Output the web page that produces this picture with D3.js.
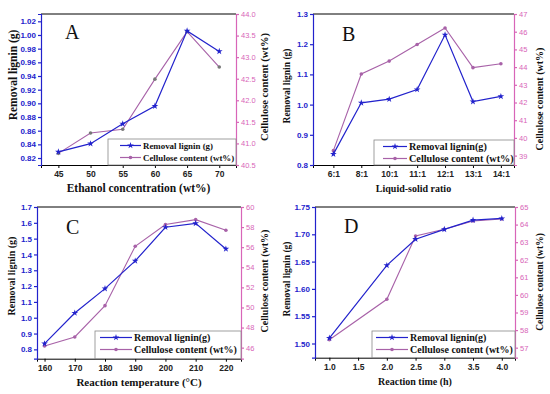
<!DOCTYPE html>
<html>
<head>
<meta charset="utf-8">
<script src="https://cdn.jsdelivr.net/npm/d3@7"></script>
<style>
  body { margin: 0; background: #fff; }
  svg { display: block; font-family: "Liberation Serif", "DejaVu Serif", serif; }
</style>
</head>
<body>
<script>
// panel A - ethanol concentration
var ethanolConc = [45, 50, 55, 60, 65, 70];
var ligninA = [0.829, 0.841, 0.870, 0.896, 1.006, 0.976];
var celluloseA = [40.77, 41.24, 41.33, 42.49, 43.59, 42.77];

// panel B - liquid-solid ratio
var ratioLabels = ["6:1", "8:1", "10:1", "11:1", "12:1", "13:1", "14:1"];
var ligninB = [0.836, 1.006, 1.018, 1.050, 1.231, 1.010, 1.027];
var celluloseB = [39.28, 43.61, 44.34, 45.28, 46.21, 43.97, 44.19];

// panel C - reaction temperature
var temperature = [160, 170, 180, 190, 200, 210, 220];
var ligninC = [0.836, 1.030, 1.184, 1.359, 1.572, 1.597, 1.435];
var celluloseC = [46.17, 47.06, 50.18, 56.09, 58.25, 58.74, 57.68];

// panel D - reaction time
var reactionTime = [1.0, 2.0, 2.5, 3.0, 3.5, 4.0];
var ligninD = [1.510, 1.643, 1.691, 1.709, 1.726, 1.729];
var celluloseD = [57.45, 59.75, 63.35, 63.73, 64.20, 64.32];

var ligninTicksA = [0.82, 0.84, 0.86, 0.88, 0.90, 0.92, 0.94, 0.96, 0.98, 1.00, 1.02];
var cellTicksA = [40.5, 41.0, 41.5, 42.0, 42.5, 43.0, 43.5, 44.0];
var ligninTicksB = [0.8, 0.9, 1.0, 1.1, 1.2, 1.3];
var cellTicksB = [39, 40, 41, 42, 43, 44, 45, 46, 47];
var ligninTicksC = [0.8, 0.9, 1.0, 1.1, 1.2, 1.3, 1.4, 1.5, 1.6, 1.7];
var cellTicksC = [46, 48, 50, 52, 54, 56, 58, 60];
var ligninTicksD = [1.50, 1.55, 1.60, 1.65, 1.70, 1.75];
var cellTicksD = [57, 58, 59, 60, 61, 62, 63, 64, 65];
var timeTicks = [1.0, 1.5, 2.0, 2.5, 3.0, 3.5, 4.0];

var blue = "#2222cc";
var mauve = "#a862a8";
var pink = "#d865b8";

var svg = d3.select("body").append("svg").attr("width", 550).attr("height", 394);

var panels = [
  { letter: "A", left: 41, right: 236, top: 14, bottom: 165,
    x: ethanolConc, xDomain: [42.3, 72.6], xTicks: ethanolConc, xFmt: d3.format("d"),
    lig: ligninA, ligDomain: [0.8098, 1.0307], ligTicks: ligninTicksA, ligFmt: d3.format(".2f"),
    cel: celluloseA, celDomain: [40.5, 44.0], celTicks: cellTicksA, celFmt: d3.format(".1f"),
    xTitle: "Ethanol concentration (wt%)", xTitleSize: 11.5,
    yTitle: "Removal lignin (g)", yTitleX: 17, yTitleY: 75, yTitleSize: 11.5,
    rTitleX: 268, rTitleY: 87, rTitleSize: 10.5,
    legend: ["Removal lignin (g)", "Cellulose content (wt%)"], legX: 108, legY: 139,
    legLine: [12, 33], legFont: 8.9,
    letterX: 65, letterY: 39, celMarker: "#777" },
  { letter: "B", left: 313, right: 514, top: 14, bottom: 165,
    x: d3.range(ratioLabels.length), xDomain: [-0.73, 6.47], xTicks: d3.range(ratioLabels.length),
    xFmt: function(i) { return ratioLabels[i]; },
    lig: ligninB, ligDomain: [0.8, 1.3], ligTicks: ligninTicksB, ligFmt: d3.format(".1f"),
    cel: celluloseB, celDomain: [38.47, 47], celTicks: cellTicksB, celFmt: d3.format("d"),
    xTitle: "Liquid-solid ratio", xTitleSize: 10,
    yTitle: "Removal lignin (g)", yTitleX: 290, yTitleY: 86, yTitleSize: 9.5,
    rTitleX: 543, rTitleY: 99, rTitleSize: 10,
    legend: ["Removal lignin(g)", "Cellulose content (wt%)"], legX: 374, legY: 140,
    legLine: [9, 33], legFont: 10.2,
    letterX: 342, letterY: 41, celMarker: mauve },
  { letter: "C", left: 37, right: 241, top: 207, bottom: 358.7,
    x: temperature, xDomain: [157.5, 225], xTicks: temperature, xFmt: d3.format("d"),
    lig: ligninC, ligDomain: [0.741, 1.7], ligTicks: ligninTicksC, ligFmt: d3.format(".1f"),
    cel: celluloseC, celDomain: [44.9, 60], celTicks: cellTicksC, celFmt: d3.format("d"),
    xTitle: "Reaction temperature (\u00B0C)", xTitleSize: 11,
    yTitle: "Removal lignin (g)", yTitleX: 15, yTitleY: 276, yTitleSize: 10,
    rTitleX: 268, rTitleY: 281, rTitleSize: 10,
    legend: ["Removal lignin(g)", "Cellulose content (wt%)"], legX: 95, legY: 331,
    legLine: [5, 37], legFont: 10,
    letterX: 66, letterY: 234, celMarker: mauve },
  { letter: "D", left: 315, right: 515, top: 207, bottom: 357.7,
    x: reactionTime, xDomain: [0.75, 4.23], xTicks: timeTicks, xFmt: d3.format(".1f"),
    lig: ligninD, ligDomain: [1.474, 1.75], ligTicks: ligninTicksD, ligFmt: d3.format(".2f"),
    cel: celluloseD, celDomain: [56.43, 65], celTicks: cellTicksD, celFmt: d3.format("d"),
    xTitle: "Reaction time (h)", xTitleSize: 10,
    yTitle: "Removal lignin (g)", yTitleX: 290, yTitleY: 279, yTitleSize: 9.5,
    rTitleX: 543, rTitleY: 282, rTitleSize: 9.5,
    legend: ["Removal lignin(g)", "Cellulose content (wt%)"], legX: 372, legY: 331,
    legLine: [4, 36], legFont: 10,
    letterX: 344, letterY: 233, celMarker: mauve }
];

panels.forEach(function(p) {
  var x = d3.scaleLinear().domain(p.xDomain).range([p.left, p.right]);
  var yL = d3.scaleLinear().domain(p.ligDomain).range([p.bottom, p.top]);
  var yR = d3.scaleLinear().domain(p.celDomain).range([p.bottom, p.top]);
  var g = svg.append("g");

  // top frame line
  g.append("line").attr("x1", p.left).attr("x2", p.right).attr("y1", p.top).attr("y2", p.top)
    .attr("stroke", "#000").attr("stroke-width", 1);

  var legW = p.right - p.legX, legH = p.bottom - p.legY;
  var leg = g.append("g");
  leg.append("rect").attr("x", p.legX).attr("y", p.legY).attr("width", legW).attr("height", legH)
    .attr("fill", "#fff").attr("stroke", "#888").attr("stroke-width", 0.8);

  var xAxis = g.append("g").attr("transform", "translate(0," + p.bottom + ")")
    .call(d3.axisBottom(x).tickValues(p.xTicks).tickFormat(p.xFmt).tickSizeOuter(0).tickSize(3).tickPadding(3));
  xAxis.selectAll("text").attr("font-size", 8.5).attr("font-weight", "bold").attr("fill", "#222");
  xAxis.selectAll("line, path").attr("stroke", "#000");

  var leftAxis = g.append("g").attr("transform", "translate(" + p.left + ",0)")
    .call(d3.axisLeft(yL).tickValues(p.ligTicks).tickFormat(p.ligFmt).tickSizeOuter(0).tickSize(3).tickPadding(2));
  leftAxis.selectAll("text").attr("font-size", 8).attr("font-weight", "bold").attr("fill", blue);
  leftAxis.selectAll("line, path").attr("stroke", blue).attr("stroke-width", 1.2);

  var rightAxis = g.append("g").attr("transform", "translate(" + p.right + ",0)")
    .call(d3.axisRight(yR).tickValues(p.celTicks).tickFormat(p.celFmt).tickSizeOuter(0).tickSize(3).tickPadding(2));
  rightAxis.selectAll("text").attr("font-size", 7.5).attr("fill", pink);
  rightAxis.selectAll("line, path").attr("stroke", pink).attr("stroke-width", 1.2);

  // series lines
  var ligLine = d3.line().x(function(d, i) { return x(p.x[i]); }).y(function(d) { return yL(d); });
  var celLine = d3.line().x(function(d, i) { return x(p.x[i]); }).y(function(d) { return yR(d); });

  g.append("path").datum(p.cel).attr("d", celLine).attr("fill", "none")
    .attr("stroke", mauve).attr("stroke-width", 1.1);
  g.selectAll(".cm").data(p.cel).enter().append("circle")
    .attr("cx", function(d, i) { return x(p.x[i]); }).attr("cy", function(d) { return yR(d); })
    .attr("r", 1.8).attr("fill", p.celMarker);

  g.append("path").datum(p.lig).attr("d", ligLine).attr("fill", "none")
    .attr("stroke", blue).attr("stroke-width", 1.2);
  g.selectAll(".lm").data(p.lig).enter().append("path")
    .attr("transform", function(d, i) { return "translate(" + x(p.x[i]) + "," + yL(d) + ")"; })
    .attr("d", d3.symbol().type(d3.symbolStar).size(14)).attr("fill", blue);

  // legend entries
  var rowY = [p.legY + 6.5, p.legY + 18.5];
  var lx0 = p.legX + p.legLine[0], lx1 = p.legX + p.legLine[1];
  [blue, mauve].forEach(function(c, k) {
    leg.append("line").attr("x1", lx0).attr("x2", lx1)
      .attr("y1", rowY[k]).attr("y2", rowY[k]).attr("stroke", c).attr("stroke-width", 1.2);
    if (k === 0) {
      leg.append("path").attr("transform", "translate(" + ((lx0 + lx1) / 2) + "," + rowY[k] + ")")
        .attr("d", d3.symbol().type(d3.symbolStar).size(14)).attr("fill", c);
    } else {
      leg.append("circle").attr("cx", (lx0 + lx1) / 2).attr("cy", rowY[k]).attr("r", 1.8).attr("fill", c);
    }
    leg.append("text").attr("x", lx1 + 2).attr("y", rowY[k] + 3.2)
      .attr("font-size", p.legFont).attr("font-weight", "bold").attr("fill", "#111").text(p.legend[k]);
  });
  g.node().appendChild(leg.node());

  // titles
  g.append("text").attr("x", (p.left + p.right) / 2).attr("y", p.bottom + 27)
    .attr("text-anchor", "middle").attr("font-size", p.xTitleSize).attr("font-weight", "bold")
    .attr("fill", "#111").text(p.xTitle);
  g.append("text").attr("transform", "translate(" + p.yTitleX + "," + p.yTitleY + ") rotate(-90)")
    .attr("text-anchor", "middle").attr("font-size", p.yTitleSize).attr("font-weight", "bold")
    .attr("fill", "#111").text(p.yTitle);
  g.append("text").attr("transform", "translate(" + p.rTitleX + "," + p.rTitleY + ") rotate(-90)")
    .attr("text-anchor", "middle").attr("font-size", p.rTitleSize).attr("font-weight", "bold")
    .attr("fill", "#111").text("Cellulose content (wt%)");

  g.append("text").attr("x", p.letterX).attr("y", p.letterY)
    .attr("font-size", 20).attr("fill", "#111").text(p.letter);
});
</script>
</body>
</html>
